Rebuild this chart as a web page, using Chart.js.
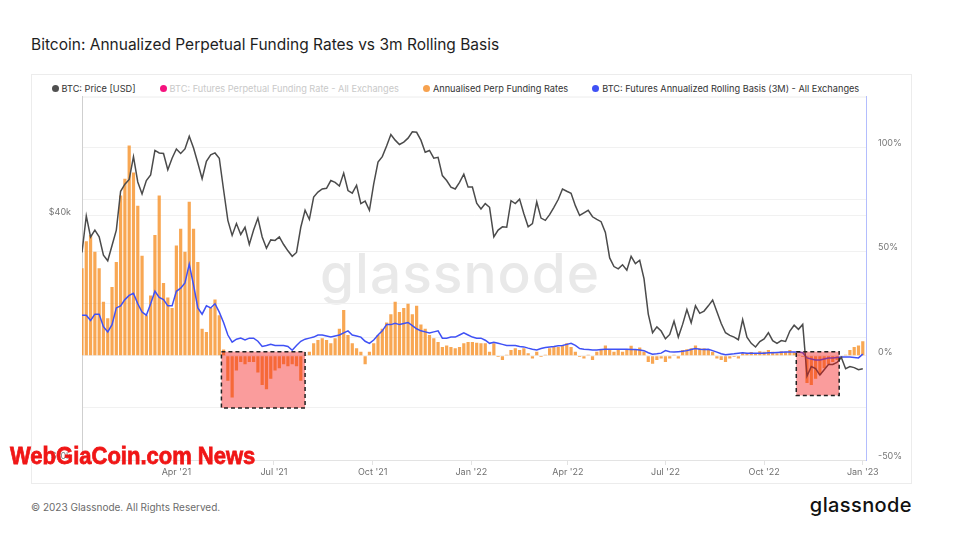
<!DOCTYPE html>
<html>
<head>
<meta charset="utf-8">
<script src="https://cdn.jsdelivr.net/npm/chart.js@4.4.0/dist/chart.umd.min.js"></script>
<style>
  html, body { margin: 0; padding: 0; background: #fff; }
  body { width: 965px; height: 536px; position: relative; overflow: hidden; font-family: Inter, "Noto Sans", sans-serif; }
  #title { position: absolute; left: 31px; top: 36px; font-size: 15.5px; line-height: 18px; color: #1e1e1e; white-space: nowrap; }
  #card { position: absolute; left: 31px; top: 74px; width: 881px; height: 410px; border: 1px solid #ececec; box-sizing: border-box; }
  #legend { position: absolute; left: 19.5px; top: 7.5px; display: flex; font-size: 9.2px; line-height: 11px; color: #333; white-space: nowrap; }
  #legend .item { display: flex; align-items: center; margin-right: 24px; }
  #legend .dot { width: 7px; height: 7px; border-radius: 50%; margin-right: 3px; }
  #legend .off { color: #c9c9c9; }
  #mark { position: absolute; left: 288px; top: 170.5px; font-size: 55px; line-height: 55px; font-weight: 500; letter-spacing: 1px; color: #e9e9e9; }
  #chart { position: absolute; left: 0; top: 0; }
  #copy { position: absolute; left: 31px; top: 501px; font-size: 10px; line-height: 12px; color: #6b6b6b; }
  #logo { position: absolute; right: 53px; top: 495px; font-size: 20px; line-height: 20px; font-weight: 500; letter-spacing: 0.4px; color: #111; }
  #stamp { position: absolute; left: 10px; top: 446.4px; font-family: "Liberation Sans", Arial, sans-serif; font-weight: bold; font-size: 22px; line-height: 22px;
           color: #f01616; -webkit-text-stroke: 0.7px #f01616; transform: scaleY(1.1); transform-origin: 0 18.6px; white-space: nowrap; }
</style>
</head>
<body>
<div id="title">Bitcoin: Annualized Perpetual Funding Rates vs 3m Rolling Basis</div>
<div id="card">
  <div id="legend">
    <div class="item"><span class="dot" style="background:#505050"></span>BTC: Price [USD]</div>
    <div class="item off"><span class="dot" style="background:#f5127e"></span>BTC: Futures Perpetual Funding Rate - All Exchanges</div>
    <div class="item"><span class="dot" style="background:#f7a24f"></span>Annualised Perp Funding Rates</div>
    <div class="item"><span class="dot" style="background:#3f51f5"></span>BTC: Futures Annualized Rolling Basis (3M) - All Exchanges</div>
  </div>
  <div id="mark">glassnode</div>
  <canvas id="chart" width="879" height="408"></canvas>
</div>
<div id="copy">© 2023 Glassnode. All Rights Reserved.</div>
<div id="logo">glassnode</div>
<div id="stamp">WebGiaCoin.com News</div>

<script>
// samples every 4 days starting 2021-01-03
const firstDate = '2021-01-03';
const stepDays = 4;

// BTC price, thousands of USD
const price = [
  32.5, 40.0, 35.5, 36.9, 35.5, 32.0, 31.0, 33.8, 36.9, 46.0,
  47.9, 49.2, 56.0, 48.5, 45.3, 48.9, 50.5, 58.0, 57.2, 57.0,
  52.0, 55.5, 58.5, 57.0, 58.5, 62.9, 58.8, 54.0, 49.4, 54.5,
  56.6, 57.2, 55.5, 46.4, 39.0, 35.8, 38.3, 36.0, 37.5, 34.0,
  36.9, 39.5, 35.5, 33.3, 34.9, 34.8, 35.5, 34.0, 32.8, 31.8,
  32.5, 37.5, 41.3, 39.2, 44.5, 45.8, 46.6, 46.8, 48.9, 48.4,
  47.4, 51.0, 46.2, 45.5, 47.6, 42.9, 43.5, 41.3, 48.0, 54.3,
  56.0, 59.5, 63.5, 61.5, 60.0, 60.8, 62.2, 64.5, 64.3, 61.5,
  57.4, 58.0, 55.5, 55.8, 50.3, 48.9, 47.1, 46.6, 48.4, 50.7,
  47.1, 47.1, 43.0, 41.6, 42.9, 42.0, 35.5, 36.9, 37.6, 37.5,
  43.6, 42.9, 44.0, 40.5, 37.6, 38.3, 43.3, 39.5, 39.0, 40.3,
  42.0, 43.9, 46.6, 46.0, 45.5, 42.4, 40.1, 40.7, 41.3, 39.8,
  39.2, 38.7, 36.4, 31.5, 30.0, 29.6, 30.3, 29.4, 31.8, 30.5,
  31.1, 28.0, 22.9, 20.6, 21.3, 20.8, 19.9, 20.4, 22.0, 20.1,
  21.6, 23.5, 21.8, 24.0, 23.0, 23.3, 24.0, 24.8, 23.2, 21.7,
  20.6, 20.3, 20.1, 19.8, 22.2, 20.1, 19.4, 19.0, 19.6, 19.9,
  20.6, 19.7, 19.4, 19.7, 19.6, 20.8, 21.5, 21.0, 21.6, 16.1,
  17.0, 16.8, 16.2, 16.7, 17.2, 17.2, 17.4, 17.9, 16.8, 17.0,
  16.9, 16.7, 16.8
];

// annualised perp funding rate, %
const funding = [
  42, 55, 58, 50, 42, 26, 18, 33, 45, 77,
  85, 101, 88, 72, 48, 19.5, 29, 58, 77, 35,
  28, 23, 53, 61, 50, 74, 61, 45, 13, 11.5,
  23, 27, 19.5, 3, -12, -20, -7, -3, -4, -3,
  -3, -8, -14, -16, -11, -7, -6, -4, -5, -4,
  -5, -12, 0.5, 2, 6, 7.6, 8.5, 7.6, 6, 8.5,
  13, 22, 10, 6, 3.7, 2, -4, 2, 6, 10,
  13, 16, 20, 26, 21, 23, 25, 20, 24, 15,
  13, 10, 8.5, 6.7, 4.3, 5, 4.3, 3.7, 4.3, 6,
  6.7, 6.7, 6.3, 6, 6, 2, 6, -0.5, -2, 0.5,
  2.8, 3.7, 2.8, 3.7, 1.3, -1.3, 2, -0.5, 0.5, 3.7,
  4.3, 4.3, 5, 6, 4.3, 2, -0.5, -1.3, 0.5, -2,
  2, 2.8, 5, 2.8, 2, 2.8, 2, 2.8, 4.8, 2.8,
  4, 2, -3, -3.8, -2, -1.3, -3, -1.3, 0.5, -1.3,
  2.8, 3.2, 3.7, 5, 3.7, 3.7, 2.8, 2, -1.3, -2,
  -3, -1.3, -0.5, -1.3, 1.3, 1.3, 1.8, 1.3, 2.2, 2,
  2.8, 2, 1.3, 2.2, 2, 2.8, 1.8, 0.5, -0.5, -13,
  -14, -11, -9, -6, -4, -3, -2, -1, 0.5, 2.8,
  4.3, 5, 7
];

// 3m rolling basis, %
const basis = [
  19.5, 19.5, 17, 20, 20, 14, 11.5, 15, 23, 24,
  27, 29, 30, 25, 21, 19.5, 25, 31, 28, 27,
  24, 24, 31, 32.5, 35, 44, 34, 23, 20, 24,
  23, 25, 21, 16, 10, 6.6, 8, 8.5, 7.6, 8.5,
  8.5, 7, 4.5, 5, 5.6, 5, 5, 5, 4.5, 2.7,
  5, 7, 8, 8.5, 9, 10, 10, 9.5, 9, 9.5,
  10, 11, 12, 10, 9.5, 9, 7, 6, 7.6, 10,
  12, 15, 15, 15.6, 15, 15.5, 16, 14.5, 13, 12,
  11.5, 11, 11.5, 12, 8.5, 8.5, 9, 9, 10, 11,
  10, 9, 8.5, 8.5, 7.5, 6, 6.5, 6, 5.5, 5,
  5, 5, 4.5, 4.3, 3.7, 3.2, 2.8, 3.5, 4, 4.3,
  4.5, 4.8, 5, 5.5, 6, 5, 3.5, 3.2, 3, 2.8,
  2.8, 3, 3.2, 3.2, 3.2, 3.2, 3.2, 3.2, 3, 3,
  2.8, 2.5, 1.5, 0.8, 1, 1.3, 2.5, 2, 1.8, 2,
  2.2, 2.5, 3, 3.5, 3.2, 3, 3.2, 2.5, 1.8, 1,
  0.5, 0.8, 1, 1.3, 1.5, 1.3, 1.3, 1.2, 1.3, 1.3,
  1.5, 1.5, 1.6, 1.7, 1.8, 1.8, 1.8, 1.8, 1.5, -1,
  -1.5, -2, -2, -1.5, -1, -1, -0.8, -0.6, -0.6, -0.6,
  -0.8, -1, 0.8
];

const tickDates = ['2021-04-01', '2021-07-01', '2021-10-01', '2022-01-01', '2022-04-01', '2022-07-01', '2022-10-01', '2023-01-01'];
const tickLabels = ["Apr '21", "Jul '21", "Oct '21", "Jan '22", "Apr '22", "Jul '22", "Oct '22", "Jan '23"];
const priceTicks = [10, 20, 40];
const priceTickLabels = ['$10k', '', '$40k'];
const pctTicks = [-50, -25, 0, 25, 50, 75, 100];

// highlighted negative-funding periods
const boxes = [
  { from: '2021-05-13', to: '2021-07-30', top: 2, bottom: -25 },
  { from: '2022-10-31', to: '2022-12-10', top: 2, bottom: -19 }
];

function dayOf(s) {
  let p = s.split('-');
  return (Date.UTC(+p[0], +p[1] - 1, +p[2]) - Date.UTC(2021, 0, 1)) / 86400000;
}

const x0 = dayOf(firstDate);
const days = price.map((v, i) => x0 + i * stepDays);
const tickDays = tickDates.map(dayOf);

function pts(arr) {
  return arr.map((v, i) => ({ x: days[i], y: v }));
}

const boxPlugin = {
  id: 'boxes',
  beforeDraw(chart) {
    const { ctx, chartArea: a } = chart;
    ctx.save();
    ctx.strokeStyle = '#ececec';
    ctx.lineWidth = 1;
    ctx.beginPath();
    ctx.moveTo(a.left, a.top + 0.5);
    ctx.lineTo(a.right, a.top + 0.5);
    ctx.stroke();
    ctx.restore();
  },
  afterDatasetsDraw(chart) {
    const { ctx, scales } = chart;
    const sx = scales.x, sy = scales.yPct;
    boxes.forEach(b => {
      let l = sx.getPixelForValue(dayOf(b.from)), r = sx.getPixelForValue(dayOf(b.to));
      let t = sy.getPixelForValue(b.top), btm = sy.getPixelForValue(b.bottom);
      ctx.save();
      ctx.fillStyle = 'rgba(243, 20, 20, 0.42)';
      ctx.fillRect(l, t, r - l, btm - t);
      ctx.setLineDash([4, 3]);
      ctx.lineWidth = 1.5;
      ctx.strokeStyle = '#222';
      ctx.strokeRect(l, t, r - l, btm - t);
      ctx.restore();
    });
  }
};

const tickFont = { family: 'Inter', size: 9 };

new Chart(document.getElementById('chart'), {
  type: 'bar',
  data: {
    datasets: [
      {
        type: 'line', label: 'BTC: Price [USD]', data: pts(price), yAxisID: 'yPrice',
        borderColor: '#4b4b4b', borderWidth: 1.5, pointRadius: 0, order: 0
      },
      {
        type: 'bar', label: 'Annualised Perp Funding Rates', data: pts(funding), yAxisID: 'yPct',
        backgroundColor: 'rgba(246, 145, 40, 0.8)', barPercentage: 0.75, categoryPercentage: 1, order: 2
      },
      {
        type: 'line', label: 'BTC: Futures Annualized Rolling Basis (3M) - All Exchanges', data: pts(basis), yAxisID: 'yPct',
        borderColor: '#3f51f5', borderWidth: 1.5, pointRadius: 0, order: 1
      }
    ]
  },
  options: {
    responsive: false,
    animation: false,
    layout: { padding: { top: 21.5, left: 0, right: 0, bottom: 0 } },
    plugins: { legend: { display: false }, tooltip: { enabled: false } },
    scales: {
      x: {
        type: 'linear', offset: false, min: dayOf('2021-01-03'), max: dayOf('2023-01-04'),
        afterBuildTicks: s => { s.ticks = tickDays.map(v => ({ value: v })); },
        afterFit: s => { s.height = 23; },
        ticks: {
          callback: v => tickLabels[tickDays.indexOf(v)],
          font: tickFont, color: '#6f6f6f', padding: 2, maxRotation: 0, autoSkip: false
        },
        grid: { drawOnChartArea: false, offset: false, tickLength: 5, color: '#e3e3e3' },
        border: { color: '#e3e3e3' }
      },
      yPrice: {
        type: 'logarithmic', position: 'left', min: 10, max: 78.8,
        afterBuildTicks: s => { s.ticks = priceTicks.map(v => ({ value: v })); },
        afterFit: s => { s.width = 50; },
        ticks: {
          callback: v => priceTickLabels[priceTicks.indexOf(v)],
          font: tickFont, color: '#777', padding: 11, labelOffset: -4
        },
        grid: { color: '#f1f1f1', drawTicks: false },
        border: { color: '#cfcfcf' }
      },
      yPct: {
        type: 'linear', position: 'right', min: -50, max: 124.5,
        afterBuildTicks: s => { s.ticks = pctTicks.map(v => ({ value: v })); },
        afterFit: s => { s.width = 45; },
        ticks: {
          callback: v => (v % 50 === 0 ? v + '%' : ''),
          font: tickFont, color: '#777', padding: 12, labelOffset: -4
        },
        grid: { color: '#f1f1f1', drawTicks: false },
        border: { color: '#b3bdfd' }
      }
    }
  },
  plugins: [boxPlugin]
});
</script>
</body>
</html>
